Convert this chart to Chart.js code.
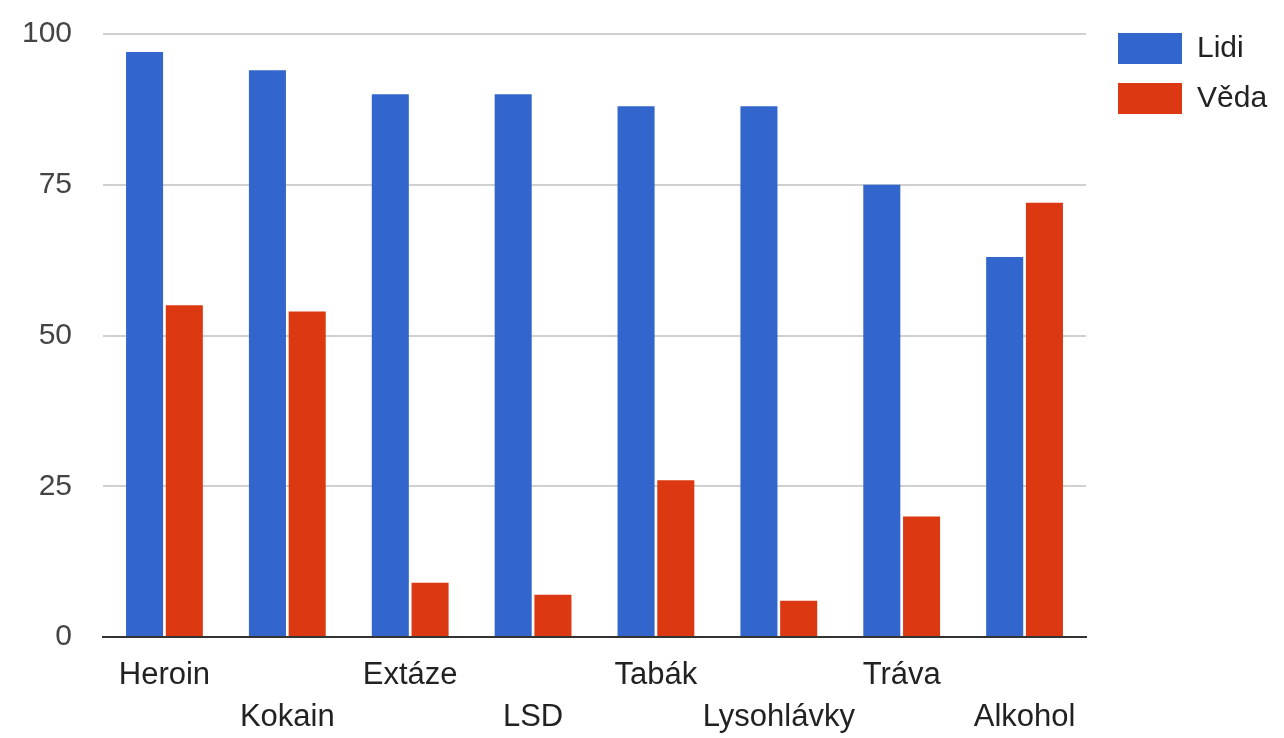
<!DOCTYPE html>
<html>
<head>
<meta charset="utf-8">
<script src="https://cdn.jsdelivr.net/npm/chart.js@4/dist/chart.umd.min.js"></script>
<style>
  html, body { margin: 0; padding: 0; background: #fff; }
  #wrap { width: 1284px; height: 738px; }
</style>
</head>
<body>
<div id="wrap"><canvas id="barchart" width="1284" height="738"></canvas></div>
<script>
// data
const categories = ['Heroin', 'Kokain', 'Extáze', 'LSD', 'Tabák', 'Lysohlávky', 'Tráva', 'Alkohol'];
const lidiValues = [97, 94, 90, 90, 88, 88, 75, 63];
const vedaValues = [55, 54, 9, 7, 26, 6, 20, 72];
const yTicks = [0, 25, 50, 75, 100];

const fontFamily = 'Arial, "Liberation Sans", Helvetica, sans-serif';

// push the legend a bit away from the plot
const legendShift = {
  id: 'legendShift',
  afterLayout(chart) {
    chart.legend.left += 13;
    chart.legend.right += 13;
  }
};

const ctx = document.getElementById('barchart').getContext('2d');
new Chart(ctx, {
  type: 'bar',
  data: {
    labels: categories,
    datasets: [
      { label: 'Lidi', data: lidiValues, backgroundColor: '#3366cc' },
      { label: 'Věda', data: vedaValues, backgroundColor: '#dc3912' }
    ]
  },
  plugins: [legendShift],
  options: {
    responsive: false,
    animation: false,
    categoryPercentage: 0.647,
    barPercentage: 0.932,
    layout: { padding: { left: 0, right: 7, top: 14, bottom: 0 } },
    plugins: {
      tooltip: { enabled: false },
      legend: {
        position: 'right',
        align: 'start',
        labels: {
          boxWidth: 64,
          boxHeight: 31,
          padding: 19,
          color: '#222',
          font: { family: fontFamily, size: 30 }
        }
      }
    },
    scales: {
      x: {
        grid: { display: false, drawTicks: false },
        border: { display: true, color: '#333', width: 2 },
        afterFit: function (scale) {
          scale.height = 101;
          scale.paddingRight = 198;
        },
        ticks: {
          color: '#222',
          padding: 17,
          autoSkip: false,
          maxRotation: 0,
          font: { family: fontFamily, size: 31, lineHeight: 1.36 },
          // labels alternate between two rows
          callback: function (value, index) {
            const name = categories[index];
            return index % 2 === 1 ? ['', name] : name;
          }
        }
      },
      y: {
        min: 0,
        max: 100,
        afterBuildTicks: function (scale) {
          scale.ticks = yTicks.map(v => ({ value: v }));
        },
        afterFit: function (scale) {
          scale.width = 103;
          scale.paddingTop = 34;
        },
        grid: { color: '#d0d0d0', lineWidth: 2, drawTicks: false },
        border: { display: false },
        ticks: {
          color: '#444',
          padding: 31,
          font: { family: fontFamily, size: 30 }
        }
      }
    }
  }
});
</script>
</body>
</html>
